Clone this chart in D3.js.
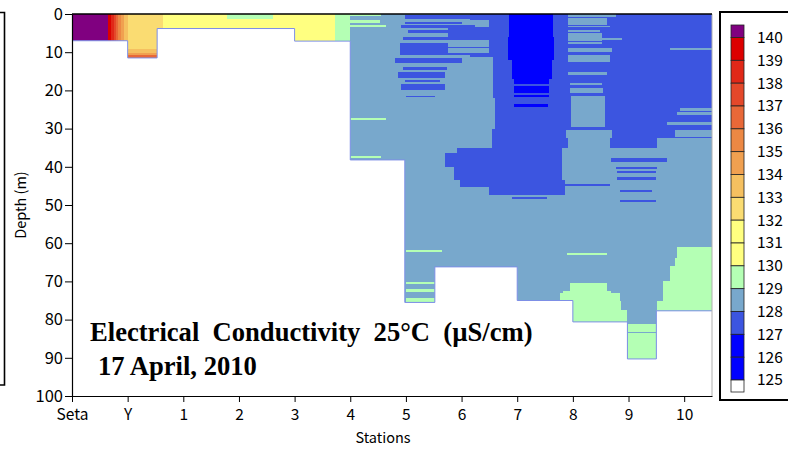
<!DOCTYPE html>
<html><head><meta charset="utf-8">
<script src="https://cdn.jsdelivr.net/npm/d3@7"></script>
<style>
html,body{margin:0;padding:0;background:#fff;}
svg{display:block;}
text{font-family:"Noto Sans CJK JP","Noto Sans",sans-serif;}
text.ann{font-family:"Liberation Serif","Times New Roman",serif;font-weight:bold;white-space:pre;}
</style></head>
<body>
<svg id="chart" width="788" height="449"></svg>
<script>
// ---------- data ----------
const stationLabels = ["Seta","Y","1","2","3","4","5","6","7","8","9","10"];
const stationPos = [0,1,2,3,4,5,6,7,8,9,10,11];
const depthTicks = [0,10,20,30,40,50,60,70,80,90,100];
const thresholds = [125,126,127,128,129,130,131,132,133,134,135,136,137,138,139,140];
const legendValues = [140,139,138,137,136,135,134,133,132,131,130,129,128,127,126,125];
const palette = ["#ffffff","#0000ff","#0000ff","#3c55e0","#78a8cc","#b4ffb4","#ffff80","#ffff80",
                 "#fadc72","#f5c060","#f0a050","#ec8844","#e86838","#e4482a","#e02818","#dc0000","#800080"];

// lake bed: column edges (station units) and bottom depth (m) of each column
const bedEdges = [0, 1.0, 1.53, 4.0, 5.0, 5.98, 6.52, 8.0, 9.0, 9.98, 10.5, 11.5];
const bedDepth = [7.0, 11.5, 3.8, 7.1, 38.2, 75.5, 66.2, 75.0, 80.6, 90.3, 77.7];

// measured conductivity patches: [value, x0, x1, depth0, depth1]
const steelBase = [[128.5, 5.0, 11.5, 0, 100]];
const royalPatches = [
 [127.5,5.98,7.24,0.3,1.3],[127.5,5.98,7.00,2.1,2.6],[127.5,5.92,7.24,2.9,3.7],[127.5,6.03,7.24,4.2,5.0],
 [127.5,6.75,7.5,3.7,6.8],[127.5,5.94,7.24,6.0,6.8],[127.5,5.89,6.75,7.6,10.7],[127.5,6.75,7.5,8.6,8.9],
 [127.5,6.75,7.5,10.2,10.7],[127.5,5.80,7.0,11.5,12.9],[127.5,5.94,6.73,13.9,14.7],[127.5,5.85,6.70,15.2,16.8],
 [127.5,5.98,6.61,17.3,17.8],[127.5,5.92,6.70,18.3,19.9],[127.5,6.01,6.52,21.5,21.7],
 [127.5,7.15,7.5,0,1.57],[127.5,7.15,7.5,3.4,6.8],[127.5,7.15,7.5,8.6,8.9],[127.5,7.15,7.5,10.7,11.3],
 [127.5,7.50,11.5,0,11.3],[127.5,7.56,11.5,11.3,22],[127.5,7.60,11.5,22,30],[127.5,7.54,11.5,30,35.1],
 [127.5,6.91,8.8,35.1,36.4],[127.5,6.70,8.8,36.4,40.0],[127.5,6.86,8.8,40.0,43.5],[127.5,6.97,8.85,43.5,45.3],
 [127.5,7.5,8.85,45.3,47.4],[127.5,7.9,8.53,48.0,48.4],
 [127.5,9.69,10.70,37.7,38.7],[127.5,9.77,10.52,40.1,40.6],[127.5,9.80,10.50,41.1,41.6],
 [127.5,9.80,10.50,42.7,43.5],[127.5,9.84,10.43,46.1,46.6],[127.5,9.84,10.50,48.7,49.2],[127.5,8.55,9.66,44.5,45.0]
];
const deepPatches = [
 [126.5,7.86,8.64,0,6],[126.5,7.84,8.66,6,12],[126.5,7.90,8.62,12,17.0],[126.5,7.95,8.58,17.0,18.3],
 [126.5,7.94,8.58,18.8,20.7],[126.5,7.95,8.58,21.2,21.7],[126.5,7.95,8.55,23.6,24.3]
];
const steelPatches = [
 [128.5,8.91,9.78,0,0.8],[128.5,8.91,9.61,1.05,2.9],[128.5,8.91,9.66,3.1,3.5],[128.5,8.91,9.48,4.2,4.7],
 [128.5,8.91,9.52,5.0,6.0],[128.5,8.91,9.89,6.3,6.8],[128.5,8.91,9.52,6.0,7.0],[128.5,8.91,9.52,7.3,7.85],
 [128.5,8.91,9.71,8.9,9.95],[128.5,8.91,9.66,10.7,12.6],[128.5,8.91,9.61,15.2,16.0],[128.5,8.94,9.52,18.1,18.6],
 [128.5,8.94,9.54,19.4,20.7],[128.5,8.96,9.57,21.5,29.6],[128.5,8.87,9.70,30.4,32.5],[128.5,8.91,9.66,32.5,35.1],
 [128.5,10.74,11.5,8.9,9.4],[128.5,10.92,11.5,24.6,25.4],[128.5,10.88,11.5,25.7,26.4],[128.5,10.70,11.5,28.3,29.1],
 [128.5,10.83,11.5,30.4,32.2],[128.5,10.52,11.5,32.5,35.1]
];
const warmPatches = [
 [141,0,0.65,0,7],[139.5,0.65,0.70,0,7],[138.5,0.70,0.75,0,7],[137.5,0.75,0.79,0,7],[136.5,0.79,0.83,0,7],
 [135.5,0.83,0.88,0,7],[134.5,0.88,0.94,0,7],[133.5,0.94,1.0,0,7],
 [132.5,1.0,1.64,0,9.2],[133.5,1.0,1.53,9.2,10.2],[134.5,1.0,1.53,10.2,10.8],[136.5,1.0,1.53,10.8,11.5],
 [131.5,1.64,5.0,0,7.2]
];
const greenPatches = [
 [129.5,2.78,3.61,0,1.2],[129.5,4.72,5.0,0,7.3],[129.5,5.0,5.55,0,0.5],[129.5,5.0,5.53,1.6,2.4],
 [129.5,5.0,5.65,2.9,3.4],[129.5,5.0,5.65,27.2,27.7],[129.5,5.0,5.56,37.2,37.7],[129.5,6.01,6.64,61.8,62.3],
 [129.5,8.89,9.62,62.6,63.1],[129.5,6.01,6.52,70.2,70.7],[129.5,6.01,6.52,72.0,72.8],[129.5,6.01,6.52,74.3,75.5],
 [129.5,8.94,9.61,70.4,72.5],[129.5,8.82,9.69,72.5,73.0],[129.5,8.76,9.84,73.0,75.0],[129.5,8.99,9.87,75.0,77.5],
 [129.5,8.99,9.98,77.5,80.6],[129.5,9.98,10.5,81.2,83.2],[129.5,9.98,10.5,83.6,90.3],
 [129.5,10.88,11.5,61.0,64],[129.5,10.83,11.5,64,66],[129.5,10.74,11.5,66,70],[129.5,10.62,11.5,70,75],[129.5,10.52,11.5,75,77.7]
];

// ---------- drawing ----------
const svg = d3.select("#chart");
const x = d3.scaleLinear().domain([0, 11.5]).range([72, 712]);
const y = d3.scaleLinear().domain([0, 100]).range([14, 396]);
const color = d3.scaleThreshold().domain(thresholds).range(palette);

// clip to water columns
const columns = bedDepth.map((d,i)=>({x0:bedEdges[i], x1:bedEdges[i+1], d}));
svg.append("defs").append("clipPath").attr("id","water")
  .selectAll("rect").data(columns).join("rect")
  .attr("x", c=>x(c.x0)).attr("y", y(0))
  .attr("width", c=>x(c.x1)-x(c.x0)).attr("height", c=>y(c.d)-y(0));

const layers = [steelBase, royalPatches, deepPatches, steelPatches, warmPatches, greenPatches].flat();
const gData = svg.append("g").attr("clip-path","url(#water)");
gData.selectAll("rect").data(layers).join("rect")
  .attr("x", p=>x(p[1])).attr("y", p=>y(p[3]))
  .attr("width", p=>x(p[2])-x(p[1])).attr("height", p=>y(p[4])-y(p[3]))
  .attr("fill", p=>color(p[0])).attr("shape-rendering","crispEdges");

// bed outline
let path = d3.path();
path.moveTo(x(bedEdges[0]), y(bedDepth[0]));
columns.forEach((c,i)=>{
  path.lineTo(x(c.x1), y(c.d));
  if (i < columns.length-1) path.lineTo(x(c.x1), y(columns[i+1].d));
});
svg.append("path").attr("d", path.toString()).attr("fill","none")
  .attr("stroke","#7d8fe6").attr("stroke-width",1);

// right frame line
svg.append("line").attr("x1",x(11.5)).attr("x2",x(11.5)).attr("y1",y(0)).attr("y2",y(100))
  .attr("stroke","#b0b0b0").attr("stroke-width",1);
// top line
svg.append("line").attr("x1",x(0)).attr("x2",x(11.5)).attr("y1",y(0)).attr("y2",y(0))
  .attr("stroke","#000").attr("stroke-width",1.5);

// axes
const ax = svg.append("g").attr("transform",`translate(0,${y(100)})`)
  .call(d3.axisBottom(x).tickValues(stationPos).tickFormat((d,i)=>stationLabels[i]).tickSize(6).tickSizeOuter(0));
ax.selectAll("text").attr("font-size",15.5).attr("fill","#000").attr("dy","0.95em");
ax.select(".domain").attr("stroke-width",1.2);
const ay = svg.append("g").attr("transform",`translate(${x(0)},0)`)
  .call(d3.axisLeft(y).tickValues(depthTicks).tickSize(7).tickSizeOuter(0));
ay.selectAll("text").attr("font-size",16.5).attr("fill","#000").attr("x",-9);
ay.select(".domain").attr("stroke-width",1.2);

svg.append("text").attr("x",383).attr("y",443).attr("text-anchor","middle")
  .attr("font-size",14.5).text("Stations");
svg.append("text").attr("transform","translate(26,205) rotate(-90)").attr("text-anchor","middle")
  .attr("font-size",14.5).text("Depth (m)");

// annotation
const ann = svg.append("g");
ann.append("text").attr("class","ann").attr("x",90).attr("y",341).attr("font-size",26.6)
  .text("Electrical  Conductivity  25°C  (µS/cm)");
ann.append("text").attr("class","ann").attr("x",98).attr("y",375).attr("font-size",26.6)
  .text("17 April, 2010");

// left panel edge
svg.append("path").attr("d","M0,12.5 H4.5 V385 H0").attr("fill","none").attr("stroke","#000").attr("stroke-width",1.6);

// legend
svg.append("rect").attr("x",720).attr("y",12).attr("width",80).attr("height",388)
  .attr("fill","#fff").attr("stroke","#000").attr("stroke-width",2);
const ly = d3.scaleLinear().domain([140,125]).range([37.5,380]);
const lg = svg.append("g");
const swatches = [{c:palette[16], y0:25, y1:ly(140)}];
for (let k=15; k>=1; k--) swatches.push({c:palette[k], y0:ly(thresholds[k]), y1:ly(thresholds[k-1])});
swatches.push({c:palette[0], y0:ly(125), y1:ly(125)+12});
lg.selectAll("rect").data(swatches).join("rect")
  .attr("x",731).attr("width",13).attr("y",s=>s.y0).attr("height",s=>s.y1-s.y0)
  .attr("fill",s=>s.c).attr("stroke","#222").attr("stroke-width",0.8);
lg.selectAll("text").data(legendValues).join("text")
  .attr("x",757).attr("y",v=>ly(v)).attr("dy","0.35em").attr("font-size",15.5).text(v=>v);
</script>
</body></html>
